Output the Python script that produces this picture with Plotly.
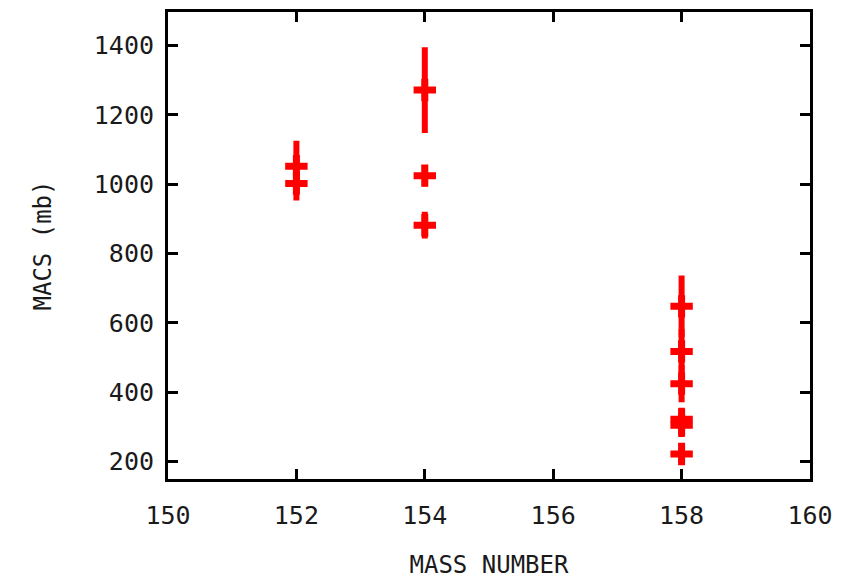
import plotly.graph_objects as go

mass = [152, 152, 154, 154, 154, 158, 158, 158, 158, 158, 158]
macs = [1052, 1002, 1272, 1025, 882, 648, 518, 425, 322, 305, 222]
err = [65, 40, 115, 22, 30, 80, 55, 45, 25, 25, 22]

x_ticks = [150, 152, 154, 156, 158, 160]
y_ticks = [200, 400, 600, 800, 1000, 1200, 1400]

fig = go.Figure()
fig.add_trace(go.Scatter(
    x=mass, y=macs, mode="markers",
    marker=dict(symbol="cross-thin", size=16, color="#ff0000",
                line=dict(color="#ff0000", width=7)),
    error_y=dict(type="data", array=err, visible=True, color="#ff0000",
                 thickness=6, width=3),
    showlegend=False,
))

font_name = "DejaVu Sans Mono, Liberation Mono, monospace"
fig.update_layout(
    width=855, height=579,
    margin=dict(l=168, r=45, t=12, b=100),
    paper_bgcolor="white", plot_bgcolor="white",
    font=dict(family=font_name, size=25, color="#1a1a1a"),
    xaxis=dict(range=[150, 160], tickvals=x_ticks, ticks="inside", ticklen=10,
               tickwidth=3, tickcolor="black", showline=True, linewidth=3,
               linecolor="black", mirror="ticks", showgrid=False, zeroline=False,
               ticklabelstandoff=12, automargin=False,
               title=dict(text="MASS NUMBER", standoff=32,
                          font=dict(family=font_name, size=24))),
    yaxis=dict(range=[150, 1497], tickvals=y_ticks, ticks="inside", ticklen=10,
               tickwidth=3, tickcolor="black", showline=True, linewidth=3,
               linecolor="black", mirror="ticks", showgrid=False, zeroline=False,
               ticklabelstandoff=6, automargin=False,
               title=dict(text="MACS (mb)", standoff=36,
                          font=dict(family=font_name, size=24))),
)

fig.write_html("out.html")
